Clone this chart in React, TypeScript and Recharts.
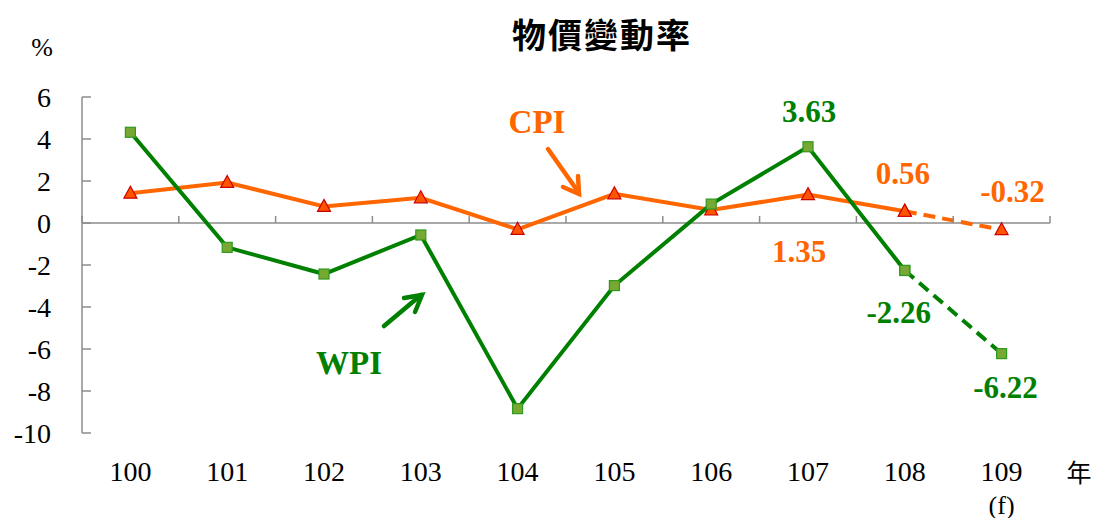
import React from 'react';
import { LineChart, Line, XAxis, YAxis, ReferenceLine, LabelList, Customized } from 'recharts';

const categories = ['100', '101', '102', '103', '104', '105', '106', '107', '108', '109'];
const subLabels = ['', '', '', '', '', '', '', '', '', '(f)'];
const cpiValues = [1.42, 1.93, 0.79, 1.2, -0.3, 1.39, 0.62, 1.35, 0.56, -0.32];
const wpiValues = [4.32, -1.16, -2.43, -0.57, -8.84, -2.98, 0.9, 3.63, -2.26, -6.22];
// last year is a forecast, drawn dashed
const forecastFrom = 8;
const yTicks = [-10, -8, -6, -4, -2, 0, 2, 4, 6];

const data = categories.map((year, i) => ({
  year,
  cpi: i <= forecastFrom ? cpiValues[i] : null,
  cpiF: i >= forecastFrom ? cpiValues[i] : null,
  wpi: i <= forecastFrom ? wpiValues[i] : null,
  wpiF: i >= forecastFrom ? wpiValues[i] : null,
}));

const W = 1094;
const H = 518;
const TOP = 97;
const BOTTOM = 433;
const LEFT = 82;
const RIGHT = 1050;
const BAND = (RIGHT - LEFT) / categories.length;
const ZERO_Y = TOP + ((6 - 0) / 16) * (BOTTOM - TOP);

const ORANGE = '#FF6600';
const GREEN = '#008000';
const AXIS = '#8C8C8C';
const SERIF = '"Liberation Serif", "Times New Roman", serif';
const CJK = '"Noto Sans CJK TC", sans-serif';

const cpiLabelPos: Record<string, [number, number]> = {
  '107': [-9, 57],
  '108': [-2, -38],
  '109': [11, -38],
};
const wpiLabelPos: Record<string, [number, number]> = {
  '107': [1, -35],
  '108': [-6, 42],
  '109': [4, 34],
};

const makeLabel = (pos: Record<string, [number, number]>, color: string) => (props: any) => {
  const { x, y, value, index } = props;
  const off = pos[categories[index]];
  if (!off || value == null) return null;
  return (
    <text
      x={x + off[0]}
      y={y + off[1]}
      textAnchor="middle"
      dominantBaseline="central"
      fill={color}
      style={{ fontFamily: SERIF, fontWeight: 'bold', fontSize: 31 }}
    >
      {Number(value).toFixed(2)}
    </text>
  );
};

const Triangle = (props: any) => {
  const { cx, cy, value } = props;
  if (value == null || cx == null) return null;
  return (
    <path
      d={`M${cx},${cy - 7} L${cx + 6.5},${cy + 5} L${cx - 6.5},${cy + 5} Z`}
      fill="#FF5500"
      stroke="#CC0000"
      strokeWidth={1.2}
    />
  );
};

const Square = (props: any) => {
  const { cx, cy, value } = props;
  if (value == null || cx == null) return null;
  return <rect x={cx - 5} y={cy - 5} width={10} height={10} fill="#77A832" stroke="#2E9A1E" strokeWidth={1.2} />;
};

const XTick = (props: any) => {
  const { x, payload, index } = props;
  const i = payload?.index ?? index;
  return (
    <g>
      <line x1={x - BAND / 2} x2={x - BAND / 2} y1={ZERO_Y} y2={ZERO_Y - 7} stroke={AXIS} strokeWidth={1.5} />
      {i === categories.length - 1 && (
        <line x1={x + BAND / 2} x2={x + BAND / 2} y1={ZERO_Y} y2={ZERO_Y - 7} stroke={AXIS} strokeWidth={1.5} />
      )}
      <text x={x} y={BOTTOM + 38} textAnchor="middle" dominantBaseline="central" fill="#000" style={{ fontFamily: SERIF, fontSize: 28 }}>
        {payload.value}
      </text>
      {subLabels[i] && (
        <text x={x} y={BOTTOM + 72} textAnchor="middle" dominantBaseline="central" fill="#000" style={{ fontFamily: SERIF, fontSize: 26 }}>
          {subLabels[i]}
        </text>
      )}
    </g>
  );
};

const YTick = (props: any) => {
  const { y, payload } = props;
  return (
    <g>
      <line x1={LEFT} x2={LEFT + 9} y1={y} y2={y} stroke={AXIS} strokeWidth={1.5} />
      <text x={51} y={y} textAnchor="end" dominantBaseline="central" fill="#000" style={{ fontFamily: SERIF, fontSize: 28 }}>
        {payload.value}
      </text>
    </g>
  );
};

const Annotations = () => (
  <g>
    <text x={602} y={33} textAnchor="middle" dominantBaseline="central" fill="#000" style={{ fontFamily: CJK, fontWeight: 'bold', fontSize: 34, letterSpacing: 2 }}>
      物價變動率
    </text>
    <text x={42} y={47} textAnchor="middle" dominantBaseline="central" fill="#000" style={{ fontFamily: SERIF, fontSize: 26 }}>
      %
    </text>
    <text x={1079} y={471} textAnchor="middle" dominantBaseline="central" fill="#000" style={{ fontFamily: CJK, fontSize: 25 }}>
      年
    </text>
    <text x={537} y={122} textAnchor="middle" dominantBaseline="central" fill={ORANGE} style={{ fontFamily: SERIF, fontWeight: 'bold', fontSize: 33 }}>
      CPI
    </text>
    <g stroke={ORANGE} strokeWidth={4.5} strokeLinecap="round" fill="none">
      <line x1={548} y1={149} x2={579} y2={193} />
      <polyline points="563,187 579,194 578,176" />
    </g>
    <text x={349} y={363} textAnchor="middle" dominantBaseline="central" fill={GREEN} style={{ fontFamily: SERIF, fontWeight: 'bold', fontSize: 33 }}>
      WPI
    </text>
    <g stroke={GREEN} strokeWidth={4.5} strokeLinecap="round" fill="none">
      <line x1={384} y1={326} x2={421} y2={295} />
      <polyline points="404,298 422,295 415,312" />
    </g>
  </g>
);

export default function App() {
  return (
    <div style={{ position: 'absolute', left: 0, top: 0, background: '#fff' }}>
      <LineChart width={W} height={H} data={data} margin={{ top: TOP, right: W - RIGHT, left: LEFT - 60, bottom: 0 }}>
        <XAxis
          dataKey="year"
          height={H - BOTTOM}
          axisLine={false}
          tickLine={false}
          tick={<XTick />}
          interval={0}
          padding={{ left: BAND / 2, right: BAND / 2 }}
        />
        <YAxis
          width={60}
          domain={[-10, 6]}
          ticks={yTicks}
          allowDataOverflow
          axisLine={{ stroke: AXIS, strokeWidth: 1.5 }}
          tickLine={false}
          tick={<YTick />}
        />
        <ReferenceLine y={0} stroke={AXIS} strokeWidth={1.5} />
        <Line dataKey="cpi" stroke={ORANGE} strokeWidth={4} dot={<Triangle />} isAnimationActive={false}>
          <LabelList dataKey="cpi" content={makeLabel(cpiLabelPos, ORANGE)} />
        </Line>
        <Line dataKey="cpiF" stroke={ORANGE} strokeWidth={4} strokeDasharray="12 7" dot={<Triangle />} isAnimationActive={false}>
          <LabelList dataKey="cpiF" content={makeLabel({ '109': cpiLabelPos['109'] }, ORANGE)} />
        </Line>
        <Line dataKey="wpi" stroke={GREEN} strokeWidth={4} dot={<Square />} isAnimationActive={false}>
          <LabelList dataKey="wpi" content={makeLabel(wpiLabelPos, GREEN)} />
        </Line>
        <Line dataKey="wpiF" stroke={GREEN} strokeWidth={4} strokeDasharray="12 7" dot={<Square />} isAnimationActive={false}>
          <LabelList dataKey="wpiF" content={makeLabel({ '109': wpiLabelPos['109'] }, GREEN)} />
        </Line>
        <Customized component={Annotations} />
      </LineChart>
    </div>
  );
}
